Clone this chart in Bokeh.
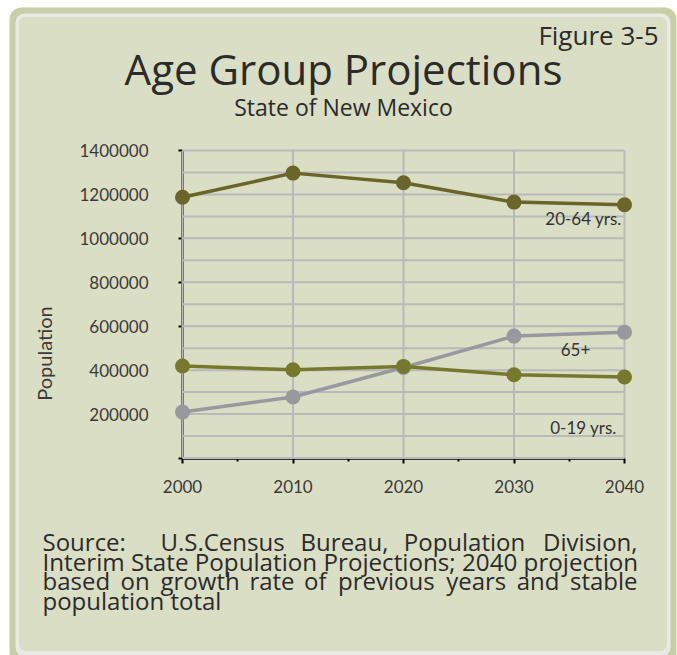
import math
from bokeh.plotting import figure
from bokeh.models import Range1d, FixedTicker, BasicTickFormatter, Label, BoxAnnotation
from bokeh.embed import file_html
from bokeh.resources import INLINE

# ---------------- data ----------------
years = [2000, 2010, 2020, 2030, 2040]
age_0_19 = [419000, 402000, 417000, 379000, 369000]
age_20_64 = [1187000, 1297000, 1253000, 1165000, 1153000]
age_65_plus = [209000, 278000, 412000, 555000, 573000]

y_ticks = [0, 200000, 400000, 600000, 800000, 1000000, 1200000, 1400000]
y_grid_levels = [0, 100000, 200000, 300000, 400000, 500000, 600000, 700000,
                 800000, 900000, 1000000, 1100000, 1200000, 1300000, 1400000]
x_minor_ticks = [2005, 2015, 2025, 2035]

fig_label = "Figure 3-5"
title_text = "Age Group Projections"
subtitle_text = "State of New Mexico"
y_label_text = "Population"
series_names = ["20-64 yrs.", "65+", "0-19 yrs."]
source_line1_words = ["Source:", "U.S.Census", "Bureau,", "Population", "Division,"]
source_line2 = "Interim State Population Projections; 2040 projection"
source_line3_words = ["based", "on", "growth", "rate", "of", "previous", "years", "and", "stable"]
source_line4 = "population total"

# ---------------- styles ----------------
PANEL = "#dadec4"
BAND = "#c8cfa6"
LIGHT = "#e9eae5"
C_ADULT = "#6a6529"
C_YOUTH = "#76792c"
C_OLD = "#98989f"
GRID = "#b9b9b9"
TXT = "#2b2b2b"
GOTHIC = "Open Sans"
CALIBRI = "Lato"

W, H = 677, 655
OX, OY = 0, 0  # page offset of the canvas
# desired page pixel positions of the plot area corners
PX_LEFT, PX_RIGHT = 182.0, 624.0     # x = 2000 .. 2040
PY_TOP, PY_BOTTOM = 150.0, 457.5     # y = 1400000 .. 0

x_lo, x_hi = years[0], years[-1]
y_lo, y_hi = y_ticks[0], y_ticks[-1]
kx = (PX_RIGHT - PX_LEFT) / (x_hi - x_lo)
ky = (PY_BOTTOM - PY_TOP) / (y_hi - y_lo)
x_range = Range1d(x_lo - (PX_LEFT - OX) / kx, x_hi + (OX + W - PX_RIGHT) / kx)
y_range = Range1d(y_lo - (OY + H - PY_BOTTOM) / ky, y_hi + (PY_TOP - OY) / ky)

p = figure(width=W, height=H, x_range=x_range, y_range=y_range,
           output_backend="svg", toolbar_location=None,
           min_border_left=0, min_border_right=0,
           min_border_top=0, min_border_bottom=0)
p.border_fill_color = "white"
p.background_fill_color = "white"
p.outline_line_color = None
p.xgrid.visible = False
p.ygrid.visible = False


def box(l, r, t, b, fill, radius, line=None):
    p.add_layout(BoxAnnotation(left=l, right=r, top=t, bottom=b,
                               left_units="canvas", right_units="canvas",
                               top_units="canvas", bottom_units="canvas",
                               fill_color=fill, fill_alpha=1,
                               line_color=line, line_width=1,
                               border_radius=radius, level="image"))


# frame decoration
box(9, 676, 7, 700, BAND, 12)
box(15, 670, 13, 656, LIGHT, 9)
box(19, 666, 17, 650, PANEL, 6, line="#c3caa0")

# gridlines
p.segment(x0=[x_lo] * len(y_grid_levels), x1=[x_hi] * len(y_grid_levels),
          y0=y_grid_levels, y1=y_grid_levels, line_color=GRID, line_width=2)
p.segment(x0=years, x1=years, y0=[y_lo] * len(years), y1=[y_hi] * len(years),
          line_color=GRID, line_width=2)

# series
p.line(years, age_65_plus, line_color=C_OLD, line_width=3.5)
p.scatter(years, age_65_plus, size=15, fill_color=C_OLD, line_color=None)
p.line(years, age_0_19, line_color=C_YOUTH, line_width=3.5)
p.scatter(years, age_0_19, size=15, fill_color=C_YOUTH, line_color=None)
p.line(years, age_20_64, line_color=C_ADULT, line_width=3.5)
p.scatter(years, age_20_64, size=15, fill_color=C_ADULT, line_color=None)

# axes
xa = p.xaxis[0]
xa.fixed_location = y_lo
xa.bounds = (x_lo, x_hi)
xa.ticker = FixedTicker(ticks=years, minor_ticks=x_minor_ticks)
xa.axis_line_color = "black"
xa.axis_line_width = 2.5
xa.major_tick_line_color = "black"
xa.major_tick_line_width = 2
xa.major_tick_out = 5
xa.major_tick_in = 0
xa.minor_tick_line_color = "black"
xa.minor_tick_line_width = 2
xa.minor_tick_out = 3
xa.minor_tick_in = 0
xa.major_label_standoff = 17
xa.major_label_text_font = CALIBRI
xa.major_label_text_font_size = "17px"
xa.major_label_text_color = "#3a3a3a"
xa.level = "underlay"

ya = p.yaxis[0]
ya.fixed_location = x_lo
ya.bounds = (y_lo, y_hi)
ya.ticker = FixedTicker(ticks=y_ticks)
ya.formatter = BasicTickFormatter(use_scientific=False)
ya.major_label_overrides = {0: ""}
ya.axis_line_color = "black"
ya.axis_line_width = 2.5
ya.major_tick_line_color = "black"
ya.major_tick_line_width = 2
ya.major_tick_out = 4
ya.major_tick_in = 0
ya.minor_tick_line_color = None
ya.major_label_standoff = 30
ya.major_label_text_font = CALIBRI
ya.major_label_text_font_size = "17px"
ya.major_label_text_color = "#3a3a3a"
ya.level = "underlay"

# ---------------- texts (screen units, frame == canvas) ----------------


def put(txt, px, py, font, size, align="left", baseline="middle", angle=0, color=TXT):
    p.add_layout(Label(x=px - OX, y=(OY + H) - py, x_units="screen", y_units="screen",
                       text=txt, text_font=font, text_font_size=size,
                       text_align=align, text_baseline=baseline, angle=angle,
                       text_color=color))


put(fig_label, 658, 34, GOTHIC, "26px", align="right")
put(title_text, 343, 68, GOTHIC, "42px", align="center")
put(subtitle_text, 343, 106, GOTHIC, "23px", align="center")
put(y_label_text, 43, 353, CALIBRI, "20px", align="center", angle=math.pi / 2, color="#3a3a3a")

put(series_names[0], 583, 218, CALIBRI, "17px", align="center", color="#333333")
put(series_names[1], 575, 349, CALIBRI, "17px", align="center", color="#333333")
put(series_names[2], 583, 427, CALIBRI, "17px", align="center", color="#333333")

SRC = "24px"
SRC_L, SRC_R = 42, 637


def justified(words, centers, py):
    put(words[0], SRC_L, py, GOTHIC, SRC, align="left")
    for w, c in zip(words[1:-1], centers):
        put(w, c, py, GOTHIC, SRC, align="center")
    put(words[-1], SRC_R, py, GOTHIC, SRC, align="right")


justified(source_line1_words, [222, 344, 464], 541)
put(source_line2, SRC_L, 560.5, GOTHIC, "24.2px")
justified(source_line3_words, [134.7, 199.6, 271.5, 314.8, 385.9, 475.7, 537.5], 580)
put(source_line4, SRC_L, 600, GOTHIC, SRC)

open("out.html", "w").write(file_html(p, INLINE))
